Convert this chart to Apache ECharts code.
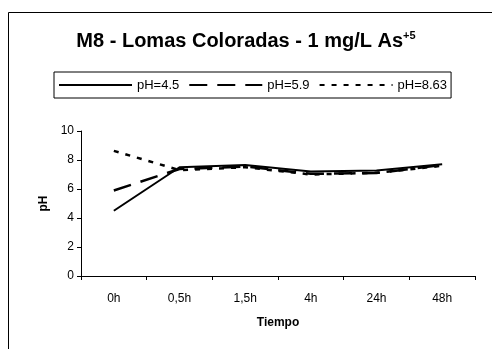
<!DOCTYPE html>
<html>
<head>
<meta charset="utf-8">
<script src="https://cdn.jsdelivr.net/npm/echarts@6/dist/echarts.min.js"></script>
<style>html,body{margin:0;padding:0;background:#fff}#c{width:492px;height:349px}</style>
</head>
<body>
<div id="c"></div>
<script>
var categories = ['0h', '0,5h', '1,5h', '4h', '24h', '48h'];
var seriesNames = ['pH=4.5', 'pH=5.9', 'pH=8.63'];
var ph45 = [4.5, 7.5, 7.65, 7.2, 7.28, 7.7];
var ph59 = [5.9, 7.38, 7.55, 7.05, 7.1, 7.65];
var ph863 = [8.63, 7.3, 7.5, 7.0, 7.12, 7.6];
var yTicks = { min: 0, max: 10, interval: 2 };

var FONT = 'Liberation Sans, Arial, sans-serif';
var chart = echarts.init(document.getElementById('c'), null, { renderer: 'canvas' });
chart.setOption({
  animation: false,
  backgroundColor: '#fff',
  graphic: [{
    type: 'rect', silent: true,
    shape: { x: 8.5, y: 12.5, width: 700, height: 500 },
    style: { fill: 'none', stroke: '#000', lineWidth: 1 }
  }],
  title: {
    text: '{a|M8 - Lomas Coloradas - 1 mg/L As}{s|+5}',
    left: 'center', top: 25,
    textStyle: {
      fontFamily: FONT,
      rich: {
        a: { fontFamily: FONT, fontSize: 20, fontWeight: 'bold', color: '#000', lineHeight: 23 },
        s: { fontFamily: FONT, fontSize: 11, fontWeight: 'bold', color: '#000', verticalAlign: 'top', lineHeight: 23, padding: [0, 0, 10, 0] }
      }
    }
  },
  legend: {
    left: 54, top: 72,
    orient: 'horizontal',
    itemWidth: 73, itemHeight: 16, itemGap: 9,
    padding: [5, 4],
    borderColor: '#000', borderWidth: 1,
    backgroundColor: '#fff',
    itemStyle: { opacity: 0 },
    textStyle: { fontFamily: FONT, fontSize: 13, color: '#000', lineHeight: 16 },
    data: seriesNames
  },
  grid: { left: 81, right: 17, top: 131, bottom: 73 },
  xAxis: {
    type: 'category', data: categories, boundaryGap: true,
    name: 'Tiempo', nameLocation: 'middle', nameGap: 41,
    nameTextStyle: { fontFamily: FONT, fontSize: 12, fontWeight: 'bold', color: '#000' },
    axisLine: { lineStyle: { color: '#000', width: 1 } },
    axisTick: { show: true, inside: false, length: 4, lineStyle: { color: '#000' } },
    axisLabel: { fontFamily: FONT, fontSize: 12, color: '#000', margin: 17 },
    splitLine: { show: false }
  },
  yAxis: {
    type: 'value', min: yTicks.min, max: yTicks.max, interval: yTicks.interval,
    name: 'pH', nameLocation: 'middle', nameGap: 31, nameRotate: 90,
    nameTextStyle: { fontFamily: FONT, fontSize: 12, fontWeight: 'bold', color: '#000' },
    axisLine: { show: true, lineStyle: { color: '#000', width: 1 } },
    axisTick: { show: true, inside: false, length: 4, lineStyle: { color: '#000' } },
    axisLabel: { fontFamily: FONT, fontSize: 12, color: '#000', margin: 7 },
    splitLine: { show: false }
  },
  series: [
    { name: seriesNames[0], type: 'line', data: ph45, symbol: 'none', color: '#000',
      lineStyle: { color: '#000', width: 2, type: 'solid' }, z: 3 },
    { name: seriesNames[1], type: 'line', data: ph59, symbol: 'none', color: '#000',
      lineStyle: { color: '#000', width: 2.5, type: [18, 10] }, z: 2 },
    { name: seriesNames[2], type: 'line', data: ph863, symbol: 'none', color: '#000',
      lineStyle: { color: '#000', width: 2.5, type: [5, 7] }, z: 1 }
  ]
});
</script>
</body>
</html>
